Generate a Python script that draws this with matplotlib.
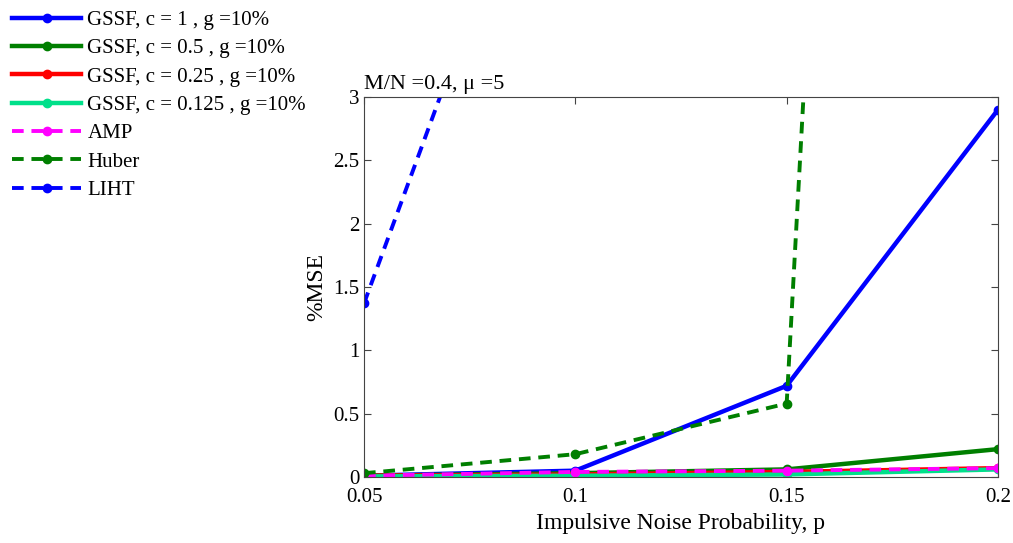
import matplotlib
matplotlib.use("Agg")
import matplotlib.pyplot as plt

plt.rcParams["font.family"] = ["Liberation Serif", "DejaVu Serif"]

p = [0.05, 0.1, 0.15, 0.2]
gssf_1 = [0.01, 0.05, 0.72, 2.9]
gssf_05 = [0.01, 0.03, 0.06, 0.22]
gssf_025 = [0.01, 0.02, 0.04, 0.07]
gssf_0125 = [0.005, 0.01, 0.02, 0.06]
amp = [0.01, 0.04, 0.05, 0.07]
huber = [0.03, 0.18, 0.58, 31.0]
liht = [1.37, 5.9, 10.0, 14.0]

series = [
    ("GSSF, c = 1 , g =10%", gssf_1, "#0000ff", "-"),
    ("GSSF, c = 0.5 , g =10%", gssf_05, "#007f00", "-"),
    ("GSSF, c = 0.25 , g =10%", gssf_025, "#ff0000", "-"),
    ("GSSF, c = 0.125 , g =10%", gssf_0125, "#00e08a", "-"),
    ("AMP", amp, "#ff00ff", "--"),
    ("Huber", huber, "#007f00", "--"),
    ("LIHT", liht, "#0000ff", "--"),
]

fig = plt.figure(figsize=(10.13, 5.43), dpi=100)
ax = fig.add_axes([364 / 1013, 1 - 477 / 543, 634 / 1013, 380 / 543])

for lab, y, col, ls in series:
    ax.plot(p, y, color=col, ls=ls, lw=3.2 if ls == "-" else 2.8,
            marker="o", ms=6, label=lab, dashes=(3, 2) if ls == "--" else (None, None))

ax.set_xlim(0.05, 0.2)
ax.set_ylim(0, 3)
ax.set_xticks([0.05, 0.1, 0.15, 0.2])
ax.set_xticklabels(["0.05", "0.1", "0.15", "0.2"])
ax.set_yticks([0, 0.5, 1, 1.5, 2, 2.5, 3])
ax.set_yticklabels(["0", "0.5", "1", "1.5", "2", "2.5", "3"])
ax.tick_params(direction="in", top=True, right=True, labelsize=15, length=5, color="#444444")
ax.tick_params(axis="x", pad=8)
for s in ax.spines.values():
    s.set_color("#444444")
ax.set_xlabel("Impulsive Noise Probability, p", fontsize=17, labelpad=4)
ax.set_ylabel("%MSE", fontsize=17)
ax.set_title("M/N =0.4, \u03bc =5", fontsize=16, loc="left", pad=6)

ax.legend(loc="upper left", bbox_to_anchor=(-360 / 634, 1 + 95 / 380), frameon=False,
          fontsize=15, handlelength=3.3, labelspacing=0.42, handletextpad=0.3,
          borderaxespad=0)

fig.savefig("out.png", dpi=100)
